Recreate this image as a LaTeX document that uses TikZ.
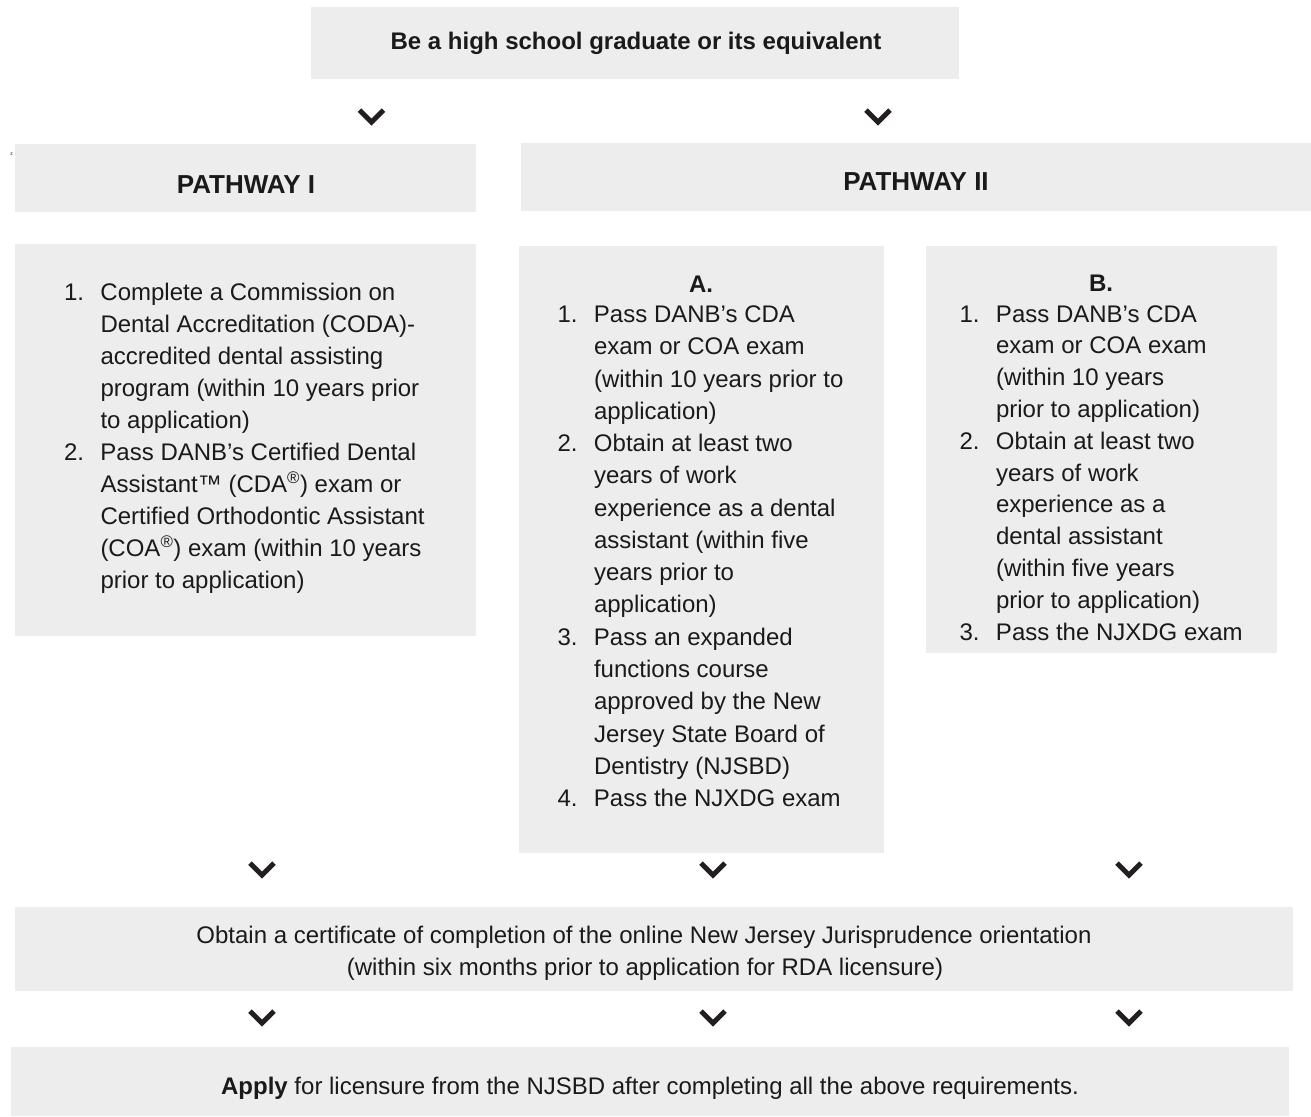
\documentclass[tikz,border=0pt]{standalone}
\usepackage{fontspec}
\setmainfont{Liberation Sans}
\definecolor{boxgray}{HTML}{EDEDED}
\definecolor{ink}{HTML}{1A1A1A}
\definecolor{chevc}{HTML}{231F20}
\newcommand{\nm}[1]{\makebox[36.5pt][l]{#1}}
\newcommand{\ind}{\hspace*{36.5pt}}
\newcommand{\reg}{\textsuperscript{®}}
\begin{document}
\begin{tikzpicture}[x=1pt,y=-1pt,
  box/.style={fill=boxgray,draw=none,inner sep=0pt,outer sep=0pt},
  chev/.style={draw=chevc,line width=5pt,line cap=butt,line join=miter},
  body/.style={text=ink,inner sep=0pt,outer sep=0pt,font=\fontsize{24}{32}\selectfont},
  bodyb/.style={text=ink,inner sep=0pt,outer sep=0pt,font=\fontsize{24}{32}\selectfont\bfseries},
  head/.style={text=ink,inner sep=0pt,outer sep=0pt,font=\fontsize{26}{32}\selectfont\bfseries}]
\useasboundingbox (0,0) rectangle (1311,1116);

% boxes
\node[box,minimum width=648,minimum height=72] (top) at (635,43) {};
\node[box,minimum width=461,minimum height=68] (p1head) at (245.5,178) {};
\node[box,minimum width=790,minimum height=68] (p2head) at (916,177) {};
\node[box,minimum width=461,minimum height=392] (p1box) at (245.5,440) {};
\node[box,minimum width=365,minimum height=607] (abox) at (701.5,549.5) {};
\node[box,minimum width=351,minimum height=407] (bbox) at (1101.5,449.5) {};
\node[box,minimum width=1278,minimum height=84] (cert) at (654,949) {};
\node[box,minimum width=1278,minimum height=69] (apply) at (650,1081.5) {};

% texts
\node[bodyb,anchor=base] (toptxt) at (636,50) {Be a high school graduate or its equivalent};
\node[head,anchor=base] (p1txt) at (246,193) {PATHWAY I};
\node[head,anchor=base] (p2txt) at (916,190) {PATHWAY II};
\node[text=ink,inner sep=0pt,font=\fontsize{5}{6}\selectfont,anchor=base] (zmark) at (11.5,155) {z};

\node[body,anchor=base west] (p1list) at (64,300.5) {%
\begin{tabular}[t]{@{}l@{}}
\nm{1.}Complete a Commission on\\
\ind Dental Accreditation (CODA)-\\
\ind accredited dental assisting\\
\ind program (within 10 years prior\\
\ind to application)\\
\nm{2.}Pass DANB’s Certified Dental\\
\ind Assistant™ (CDA\reg) exam or\\
\ind Certified Orthodontic Assistant\\
\ind (COA\reg) exam (within 10 years\\
\ind prior to application)
\end{tabular}};

\node[bodyb,anchor=base] (atitle) at (701,292) {A.};
\node[text=ink,inner sep=0pt,outer sep=0pt,font=\fontsize{24}{32.27}\selectfont,anchor=base west] (alist) at (557.5,322.5) {%
\begin{tabular}[t]{@{}l@{}}
\nm{1.}Pass DANB’s CDA\\
\ind exam or COA exam\\
\ind (within 10 years prior to\\
\ind application)\\
\nm{2.}Obtain at least two\\
\ind years of work\\
\ind experience as a dental\\
\ind assistant (within five\\
\ind years prior to\\
\ind application)\\
\nm{3.}Pass an expanded\\
\ind functions course\\
\ind approved by the New\\
\ind Jersey State Board of\\
\ind Dentistry (NJSBD)\\
\nm{4.}Pass the NJXDG exam
\end{tabular}};

\node[bodyb,anchor=base] (btitle) at (1101,291.5) {B.};
\node[text=ink,inner sep=0pt,outer sep=0pt,font=\fontsize{24}{31.8}\selectfont,anchor=base west] (blist) at (959.5,322) {%
\begin{tabular}[t]{@{}l@{}}
\nm{1.}Pass DANB’s CDA\\
\ind exam or COA exam\\
\ind (within 10 years\\
\ind prior to application)\\
\nm{2.}Obtain at least two\\
\ind years of work\\
\ind experience as a\\
\ind dental assistant\\
\ind (within five years\\
\ind prior to application)\\
\nm{3.}Pass the NJXDG exam
\end{tabular}};

\node[body,anchor=base] (cert1) at (644,943) {Obtain a certificate of completion of the online New Jersey Jurisprudence orientation};
\node[body,anchor=base] (cert2) at (645,975) {(within six months prior to application for RDA licensure)};
\node[body,anchor=base] (applytxt) at (650,1094) {\textbf{Apply} for licensure from the NJSBD after completing all the above requirements.};

% chevrons
\coordinate (c1) at (371.5,117);
\coordinate (c2) at (878,117);
\coordinate (c3) at (262,870);
\coordinate (c4) at (713,870);
\coordinate (c5) at (1129,870);
\coordinate (c6) at (262,1018);
\coordinate (c7) at (713,1018);
\coordinate (c8) at (1129,1018);
\foreach \c in {c1,c2,c3,c4,c5,c6,c7,c8}{
  \draw[chev] ([shift={(-12,-6.85)}]\c) -- ([shift={(0,5.15)}]\c) -- ([shift={(12,-6.85)}]\c);
}
\end{tikzpicture}
\end{document}
